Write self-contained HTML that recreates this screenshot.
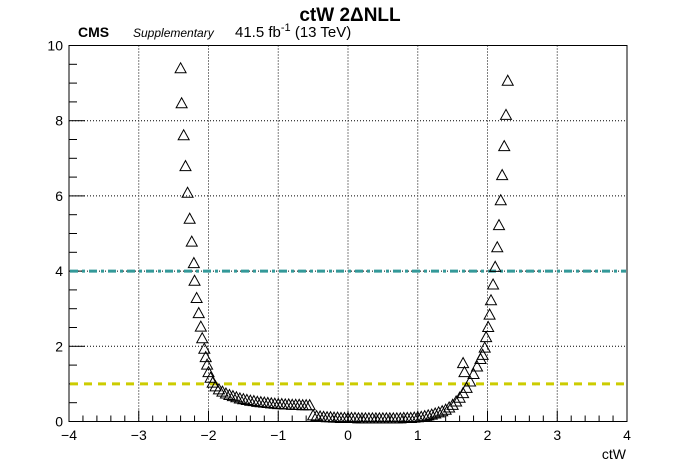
<!DOCTYPE html>
<html><head><meta charset="utf-8"><style>
body{margin:0;background:#fff;}
svg{display:block;font-family:"Liberation Sans",Arial,sans-serif;}
</style></head><body>
<svg id="chart" width="696" height="472" viewBox="0 0 696 472">
<rect width="696" height="472" fill="#fff"/>
<text x="350" y="21" font-size="19" font-weight="bold" text-anchor="middle">ctW 2ΔNLL</text>
<text x="78" y="37" font-size="14" font-weight="bold">CMS</text>
<text x="133" y="37" font-size="12" font-style="italic">Supplementary</text>
<text x="235" y="37" font-size="15">41.5 fb<tspan dy="-6" font-size="11">-1</tspan><tspan dy="6"> (13 TeV)</tspan></text>
<text x="626" y="459" font-size="14" text-anchor="end">ctW</text>
<g id="grid"></g>
<g id="axes"></g>
<g id="refs"></g>
<g id="marks"></g>
</svg>
<script>
const xTicks = [-4,-3,-2,-1,0,1,2,3,4];
const yTicks = [0,2,4,6,8,10];
const refLevels = [4,1];
const ctW = [-2.40,-2.385,-2.356,-2.33,-2.30,-2.27,-2.24,-2.21,-2.20,-2.17,-2.14,-2.11,-2.09,-2.06,
-2.04,-2.02,-2.0,-1.97,-1.94,-1.9,-1.85,-1.8,-1.75,-1.7,-1.65,-1.6,-1.55,-1.5,-1.45,-1.4,-1.35,-1.3,-1.25,-1.2,-1.15,-1.1,-1.05,-1.0,-0.95,-0.9,-0.85,-0.8,-0.75,-0.7,-0.65,-0.6,-0.55,
-0.5,-0.45,-0.4,-0.35,-0.3,-0.25,-0.2,-0.15,-0.1,-0.05,0,0.05,0.1,0.15,0.2,0.25,0.3,0.35,0.4,0.45,0.5,0.55,0.6,0.65,0.7,0.75,0.8,0.85,0.9,0.95,
1.0,1.05,1.1,1.15,1.2,1.25,1.3,1.35,1.4,1.45,1.5,1.55,1.6,1.65,1.7,1.75,1.8,1.85,1.9,1.65,1.67,
1.93,1.96,1.98,2.01,2.03,2.05,2.08,2.11,2.14,2.165,2.19,2.21,2.24,2.265,2.29];
const nll = [9.38,8.45,7.6,6.78,6.07,5.38,4.77,4.2,3.73,3.27,2.87,2.51,2.2,1.92,
1.7,1.5,1.3,1.15,1.02,0.92,0.84,0.78,0.73,0.69,0.66,0.63,0.6,0.58,0.56,0.54,0.53,0.51,0.5,0.49,0.48,0.47,0.46,0.45,0.45,0.44,0.44,0.43,0.43,0.43,0.42,0.42,0.42,
0.15,0.13,0.12,0.11,0.1,0.1,0.09,0.09,0.08,0.08,0.08,0.08,0.08,0.07,0.07,0.07,0.07,0.07,0.07,0.07,0.07,0.07,0.07,0.07,0.07,0.07,0.08,0.08,0.08,0.09,
0.1,0.11,0.13,0.15,0.17,0.2,0.23,0.26,0.3,0.36,0.43,0.52,0.62,0.74,0.88,1.05,1.25,1.45,1.65,1.54,1.3,
1.76,1.95,2.23,2.5,2.83,3.21,3.63,4.1,4.62,5.21,5.87,6.54,7.31,8.14,9.05];

const X0=69,X1=627,Y0=421.5,Y1=45.5;
const sx=v=>X0+(v+4)/8*(X1-X0);
const sy=v=>Y0-v/10*(Y0-Y1);
const NS='http://www.w3.org/2000/svg';
function mk(tag,parent,attrs){const e=document.createElementNS(NS,tag);for(const k in attrs)e.setAttribute(k,attrs[k]);parent.appendChild(e);return e;}
const grid=document.getElementById('grid'),axes=document.getElementById('axes'),refs=document.getElementById('refs'),marks=document.getElementById('marks');

xTicks.forEach(t=>{if(t>-4&&t<4){const l=mk('line',grid,{x1:sx(t),x2:sx(t),y1:Y0,y2:Y1,stroke:'#000','stroke-width':1,'stroke-dasharray':'1,2'});

}});
yTicks.forEach(t=>{if(t>0&&t<10){const l=mk('line',grid,{x1:X0,x2:X1,y1:sy(t),y2:sy(t),stroke:'#000','stroke-width':1,'stroke-dasharray':'1,2'});

}});

const frame=mk('rect',axes,{x:X0,y:Y1,width:X1-X0,height:Y0-Y1,fill:'none',stroke:'#000','stroke-width':1});


for(let i=0;i<=40;i++){const v=-4+i*0.2;const major=i%5===0;
 mk('line',axes,{x1:sx(v),x2:sx(v),y1:Y0,y2:Y0-(major?11:6),stroke:'#000'});}
for(let i=0;i<=20;i++){const v=i*0.5;const major=i%4===0;
 mk('line',axes,{x1:X0,x2:X0+(major?16:8),y1:sy(v),y2:sy(v),stroke:'#000'});}
xTicks.forEach(t=>{const tx=mk('text',axes,{x:sx(t),y:440,'font-size':14,'text-anchor':'middle'});tx.textContent=(t<0?'\u2212'+(-t):String(t));

});
yTicks.forEach(t=>{const tx=mk('text',axes,{x:63,y:sy(t)+5,'font-size':14,'text-anchor':'end'});tx.textContent=String(t);

});

const refStyles=[{stroke:'#339999',dash:'8,4,3,4'},{stroke:'#cccc00',dash:'8,6'}];
refLevels.forEach((lv,i)=>{const l=mk('line',refs,{x1:X0+1,x2:X1-1,y1:sy(lv),y2:sy(lv),stroke:refStyles[i].stroke,'stroke-width':3,'stroke-dasharray':refStyles[i].dash});

});

ctW.forEach((c,i)=>{const x=sx(c),y=sy(nll[i]);
 const p=mk('polygon',marks,{points:`${x},${y-6} ${x-5.5},${y+4} ${x+5.5},${y+4}`,fill:'none',stroke:'#000','stroke-width':1});
 
 });
</script>
</body></html>
